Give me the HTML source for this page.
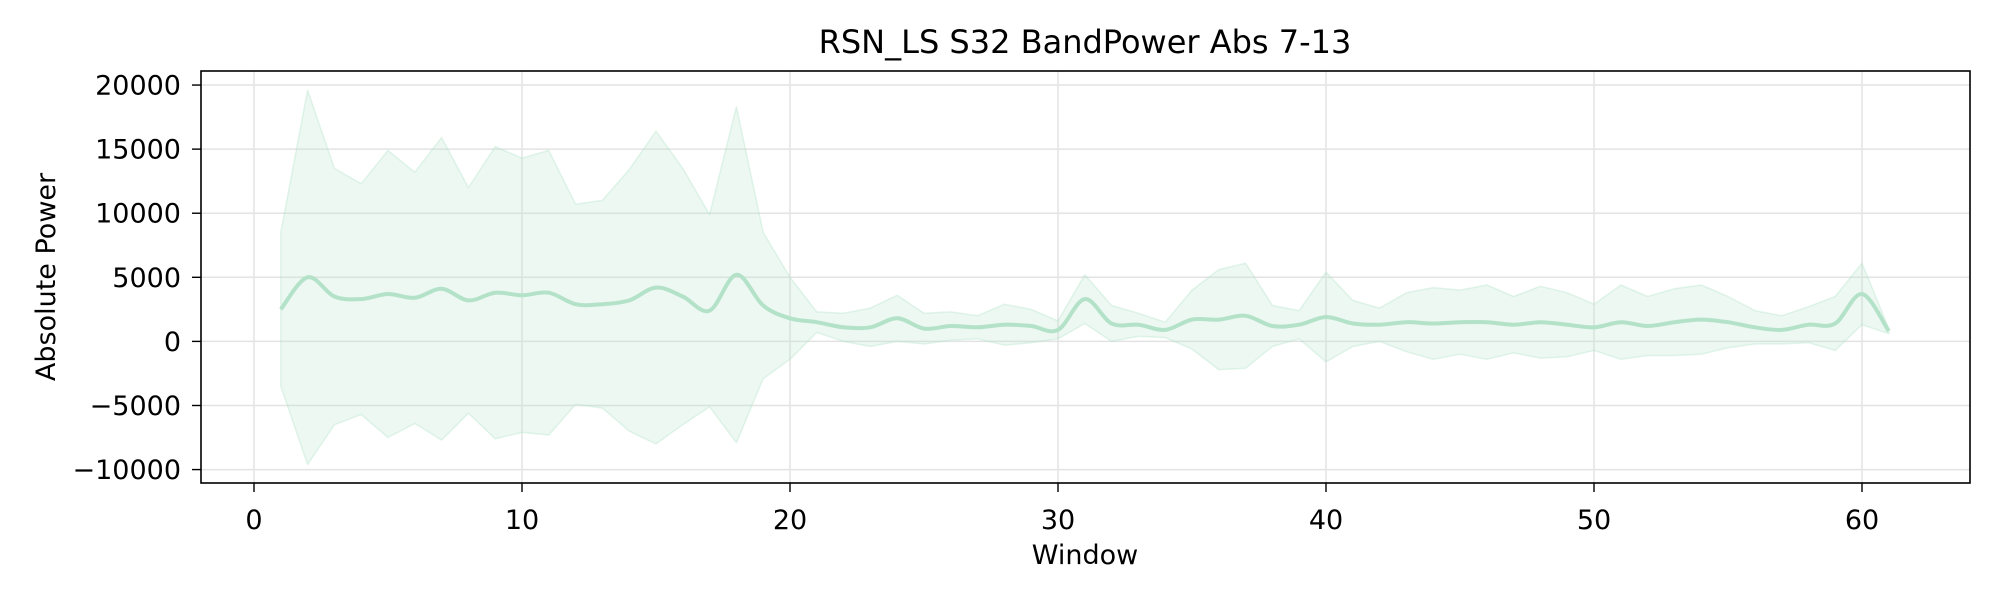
<!DOCTYPE html>
<html><head><meta charset="utf-8"><style>
html,body{margin:0;padding:0;background:#fff;}
svg{display:block;font-family:"DejaVu Sans","Liberation Sans",sans-serif;}
</style></head><body>
<svg id="chart" width="2000" height="600" xmlns="http://www.w3.org/2000/svg"></svg>
<script>
const windows = [];
for (let i = 1; i <= 61; i++) windows.push(i);
const meanValues = [2500,5000,3500,3300,3700,3400,4100,3200,3800,3600,3800,2900,2900,3200,4200,3500,2400,5200,2800,1800,1500,1100,1100,1800,1000,1200,1100,1300,1200,900,3300,1400,1300,900,1700,1700,2000,1200,1300,1900,1400,1300,1500,1400,1500,1500,1300,1500,1300,1100,1500,1200,1500,1700,1500,1100,900,1300,1400,3700,800];
const upperValues = [8500,19600,13500,12300,14900,13200,15900,12000,15200,14300,14900,10700,11000,13400,16400,13500,9900,18300,8500,5000,2300,2200,2600,3600,2200,2300,2000,2900,2500,1600,5200,2800,2200,1500,4000,5600,6100,2800,2400,5400,3200,2600,3800,4200,4000,4400,3500,4300,3800,2900,4400,3500,4100,4400,3500,2400,2000,2700,3500,6100,1000];
const xTicks = [0,10,20,30,40,50,60];
const yTicks = [-10000,-5000,0,5000,10000,15000,20000];

const NS = "http://www.w3.org/2000/svg";
const svg = document.getElementById('chart');
const L = 201, R = 1970, T = 71, B = 483;
const X = v => 254 + v * 26.8;
const Y = v => 341.4 - v * 0.012818;
function mk(tag, attrs, parent) {
  const e = document.createElementNS(NS, tag);
  for (const k in attrs) e.setAttribute(k, attrs[k]);
  (parent || svg).appendChild(e);
  return e;
}
function txt(s, x, y, size, anchor, rot) {
  const t = mk('text', {transform: `translate(${x},${y})` + (rot ? ` rotate(${rot})` : ''), 'font-size': size, 'text-anchor': anchor, fill: '#000'});
  t.textContent = s;
  return t;
}
xTicks.forEach(v => {
  const g = mk('line', {x1: X(v), x2: X(v), y1: T, y2: B, stroke: '#e3e3e3', 'stroke-width': 1.5});
  
  
});
yTicks.forEach(v => {
  const g = mk('line', {x1: L, x2: R, y1: Y(v), y2: Y(v), stroke: '#e3e3e3', 'stroke-width': 1.5});
  
  
});
const lowerValues = meanValues.map((m, i) => 2 * m - upperValues[i]);
let d = '';
windows.forEach((w, i) => { d += (i ? 'L' : 'M') + X(w).toFixed(1) + ',' + Y(upperValues[i]).toFixed(1); });
for (let i = windows.length - 1; i >= 0; i--) d += 'L' + X(windows[i]).toFixed(1) + ',' + Y(lowerValues[i]).toFixed(1);
d += 'Z';
const band = mk('path', {d: d, fill: '#b3e2c9', 'fill-opacity': 0.25, stroke: '#b3e2c9', 'stroke-opacity': 0.35, 'stroke-width': 1.5, 'stroke-linejoin': 'round'});


const pts = windows.map((w, i) => [X(w), Y(meanValues[i])]);
let ld = 'M' + pts[0][0] + ',' + pts[0][1];
for (let i = 0; i < pts.length - 1; i++) {
  const p0 = pts[Math.max(0, i - 1)], p1 = pts[i], p2 = pts[i + 1], p3 = pts[Math.min(pts.length - 1, i + 2)];
  const c1 = [p1[0] + (p2[0] - p0[0]) / 6, p1[1] + (p2[1] - p0[1]) / 6];
  const c2 = [p2[0] - (p3[0] - p1[0]) / 6, p2[1] - (p3[1] - p1[1]) / 6];
  ld += `C${c1[0].toFixed(1)},${c1[1].toFixed(1)} ${c2[0].toFixed(1)},${c2[1].toFixed(1)} ${p2[0].toFixed(1)},${p2[1].toFixed(1)}`;
}
const line = mk('path', {d: ld, fill: 'none', stroke: '#b3e2c9', 'stroke-width': 4, 'stroke-linejoin': 'round'});


const frame = mk('rect', {x: L, y: T, width: R - L, height: B - T, fill: 'none', stroke: '#000', 'stroke-width': 1.6});


xTicks.forEach(v => {
  mk('line', {x1: X(v), x2: X(v), y1: B, y2: B + 9, stroke: '#000', 'stroke-width': 1.4});
  const t = txt(String(v), X(v), 529, 27, 'middle');
  
  
});
yTicks.forEach(v => {
  mk('line', {x1: L - 9, x2: L, y1: Y(v), y2: Y(v), stroke: '#000', 'stroke-width': 1.4});
  const t = txt(String(v).replace('-', '\u2212'), 181, Y(v) + 9.5, 27, 'end');
  
  
});
const title = txt('RSN_LS S32 BandPower Abs 7-13', 1085, 53, 32, 'middle');


const xl = txt('Window', 1085, 564, 27, 'middle');


const yl = txt('Absolute Power', 55, 277, 27, 'middle', -90);


</script>
</body></html>
